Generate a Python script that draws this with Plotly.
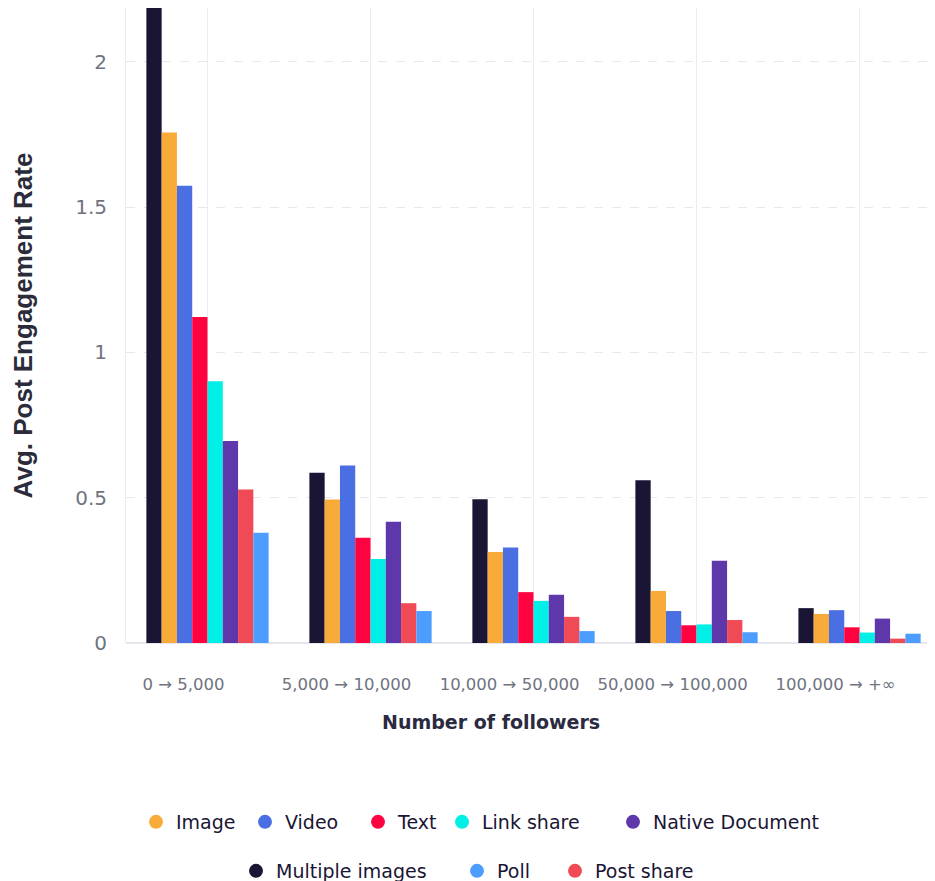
import plotly.graph_objects as go

categories = ["0 → 5,000", "5,000 → 10,000", "10,000 → 50,000", "50,000 → 100,000", "100,000 → +∞"]

multiple_images = [2.25, 0.586, 0.495, 0.560, 0.120]
image = [1.757, 0.494, 0.313, 0.179, 0.100]
video = [1.573, 0.611, 0.329, 0.110, 0.113]
text = [1.122, 0.362, 0.175, 0.061, 0.054]
link_share = [0.901, 0.289, 0.145, 0.064, 0.036]
native_document = [0.695, 0.417, 0.166, 0.283, 0.084]
post_share = [0.528, 0.137, 0.090, 0.079, 0.015]
poll = [0.379, 0.110, 0.041, 0.037, 0.032]

y_ticks = [0, 0.5, 1, 1.5, 2]
y_tick_labels = ["0", "0.5", "1", "1.5", "2"]

series_names = ["Multiple images", "Image", "Video", "Text", "Link share",
                "Native Document", "Post share", "Poll"]
series_values = [multiple_images, image, video, text, link_share,
                 native_document, post_share, poll]
series_colors = ["#1a1534", "#f9ab3a", "#4a6fe3", "#ff0341", "#00efe6",
                 "#5e38ab", "#ef4a55", "#4d9dff"]
# legend entry placement (window pixels: marker centre x, row centre y)
legend_pos = [(256, 871), (156, 822), (265, 822), (378, 822), (462, 822),
              (633, 822), (575, 871), (477, 871)]

# the page body has an 8px margin: work in window pixels and convert
OFF = 8
W, H = 935 - OFF, 881 - OFF
L, R, T = 126 - OFF, 0, 8 - OFF
B = H - (643 - OFF)
pw = W - L - R
ph = H - T - B


def px_x(x):
    return (x - OFF - L) / pw


def px_y(y):
    return (H - B - (y - OFF)) / ph


fig = go.Figure()
for name, vals, color in zip(series_names, series_values, series_colors):
    fig.add_trace(go.Bar(
        x=categories, y=vals, name=name, marker_color=color,
        marker_line_width=0, legendgroup=name, showlegend=False,
    ))

legend_layouts = {}
for i, (name, color, (lx, ly)) in enumerate(zip(series_names, series_colors, legend_pos)):
    key = "legend" if i == 0 else f"legend{i + 1}"
    fig.add_trace(go.Scatter(
        x=[None], y=[None], mode="markers", name=name,
        marker=dict(symbol="circle", size=14, color=color),
        legendgroup=name, legend=key, showlegend=True,
    ))
    legend_layouts[key] = dict(
        orientation="h", x=px_x(lx - 20), xanchor="left",
        y=px_y(ly), yanchor="middle",
        font=dict(size=19, color="#1a1534", family="DejaVu Sans, sans-serif"),
        itemwidth=30, tracegroupgap=0, bgcolor="rgba(0,0,0,0)",
    )

fig.update_layout(
    width=W, height=H,
    margin=dict(l=L, r=R, t=T, b=B, pad=0, autoexpand=False),
    paper_bgcolor="white", plot_bgcolor="white",
    barmode="group", bargap=0.25, bargroupgap=0,
    font=dict(family="DejaVu Sans, sans-serif", color="#1a1534"),
    xaxis=dict(
        range=[-0.5, 4.463], automargin=False,
        showgrid=True, gridcolor="#ececf2", gridwidth=1,
        showline=False, zeroline=False,
        ticks="", tickfont=dict(size=16.5, color="#6f7380"),
        ticklabelshift=-24, ticklabelstandoff=29,
    ),
    yaxis=dict(
        range=[0, 2.185], automargin=False,
        tickvals=y_ticks, ticktext=y_tick_labels,
        showgrid=True, gridcolor="#e8e8ee", griddash="dash", gridwidth=1,
        zeroline=True, zerolinecolor="#e6e6ef", zerolinewidth=2,
        showline=True, linecolor="#ececf2", linewidth=1,
        ticks="", tickfont=dict(size=20, color="#6f7380"),
        ticklabelstandoff=14,
        title=dict(text="<b>Avg. Post Engagement Rate</b>",
                   font=dict(size=26, family="Liberation Sans Narrow, Arial Narrow, Liberation Sans, sans-serif",
                             color="#2b2b3a"),
                   standoff=37),
    ),
    annotations=[dict(
        text="<b>Number of followers</b>", x=px_x(491), y=px_y(722),
        xref="paper", yref="paper", xanchor="center", yanchor="middle",
        showarrow=False,
        font=dict(size=19, color="#2b2a40", family="DejaVu Sans, sans-serif"),
    )],
    **legend_layouts,
)

fig.write_html("out.html")
